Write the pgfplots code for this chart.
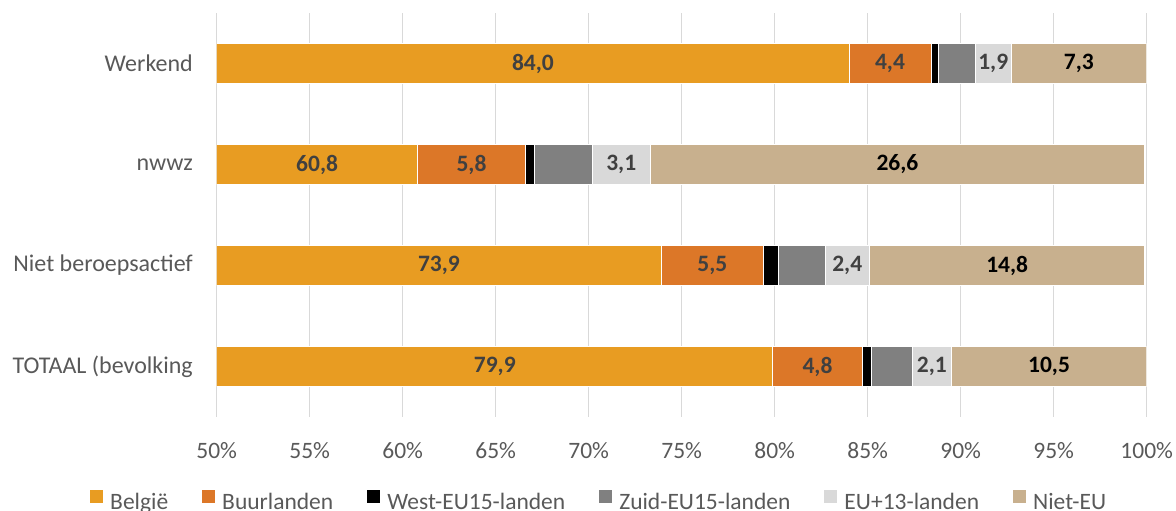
\documentclass[border=0pt]{standalone}
\usepackage{fontspec}
\setmainfont{Carlito}
\usepackage{pgfplots}
\usepackage{pgfplotstable}
\pgfplotsset{compat=1.18}
\definecolor{cBel}{HTML}{E89C22}
\definecolor{cBuur}{HTML}{DC7728}
\definecolor{cWest}{HTML}{000000}
\definecolor{cZuid}{HTML}{808080}
\definecolor{cEU}{HTML}{D9D9D9}
\definecolor{cNiet}{HTML}{C8B08E}
\definecolor{cTxt}{HTML}{595959}
\definecolor{cLab}{HTML}{404040}
\definecolor{cGrid}{HTML}{D9D9D9}
\pgfplotstableread{
y Belgie Buur West Zuid EU13 NietEU
0 79.9 4.8 0.5 2.2 2.1 10.5
1 73.9 5.5 0.8 2.5 2.4 14.8
2 60.8 5.8 0.5 3.1 3.1 26.6
3 84.0 4.4 0.4 2.0 1.9 7.3
}\data
\begin{document}
\begin{tikzpicture}
\path[use as bounding box] (0pt,0pt) rectangle (1176pt,511pt);
\begin{axis}[
  at={(216.7pt,94pt)}, anchor=south west,
  scale only axis, width=930pt, height=404pt,
  xbar stacked, bar width=40pt,
  xmin=50, xmax=100, ymin=-0.5, ymax=3.5,
  xtick={50,55,...,100},
  xticklabels={50\%,55\%,60\%,65\%,70\%,75\%,80\%,85\%,90\%,95\%,100\%},
  ytick={0,1,2,3},
  yticklabels={TOTAAL (bevolking,Niet beroepsactief,nwwz,Werkend},
  /pgf/number format/assume math mode=true,
  xmajorgrids, grid style={cGrid, line width=1.5pt},
  axis line style={draw=none}, major tick length=0pt,
  xticklabel style={font=\fontsize{23.5}{27}\selectfont, text=cTxt, anchor=north, inner sep=0pt, yshift=-25pt},
  yticklabel style={font=\fontsize{24}{28}\selectfont, text=cTxt, anchor=east, inner sep=0pt, xshift=-23.7pt},
  legend columns=6,
  legend style={at={(-0.1362,-0.207)}, anchor=west, draw=none, fill=none, inner sep=0pt,
    font=\fontsize{23.5}{27}\selectfont, text=cTxt,
    nodes={inner sep=0pt},
    /tikz/every odd column/.append style={column sep=7pt},
    /tikz/every even column/.append style={column sep=34pt}},
  legend image code/.code={\fill[#1, draw=none] (0pt,-1pt) rectangle (13pt,12pt);},
  every axis plot/.append style={draw=white, line width=0.75pt},
  nodes near coords={\pgfmathprintnumber[fixed,fixed zerofill,precision=1,use comma]{\pgfplotspointmeta}},
  every node near coord/.append style={font=\bfseries\fontsize{23.5}{27}\selectfont, text=cLab, anchor=center, inner sep=0pt},
]
\addplot[fill=cBel, point meta=explicit symbolic,
  every node near coord/.append style={xshift=465pt}]
  table[x=Belgie, y=y, meta=Belgie]{\data};
\addlegendentry{België}
\addplot[fill=cBuur, point meta=explicit symbolic]
  table[x=Buur, y=y, meta=Buur]{\data};
\addlegendentry{Buurlanden}
\addplot[fill=cWest, nodes near coords={}]
  table[x=West, y=y]{\data};
\addlegendentry{West-EU15-landen}
\addplot[fill=cZuid, nodes near coords={}]
  table[x=Zuid, y=y]{\data};
\addlegendentry{Zuid-EU15-landen}
\addplot[fill=cEU, point meta=explicit symbolic]
  table[x=EU13, y=y, meta=EU13]{\data};
\addlegendentry{EU+13-landen}
\addplot[fill=cNiet, point meta=explicit symbolic,
  every node near coord/.append style={text=black}]
  table[x=NietEU, y=y, meta=NietEU]{\data};
\addlegendentry{Niet-EU}
\end{axis}
\end{tikzpicture}
\end{document}
